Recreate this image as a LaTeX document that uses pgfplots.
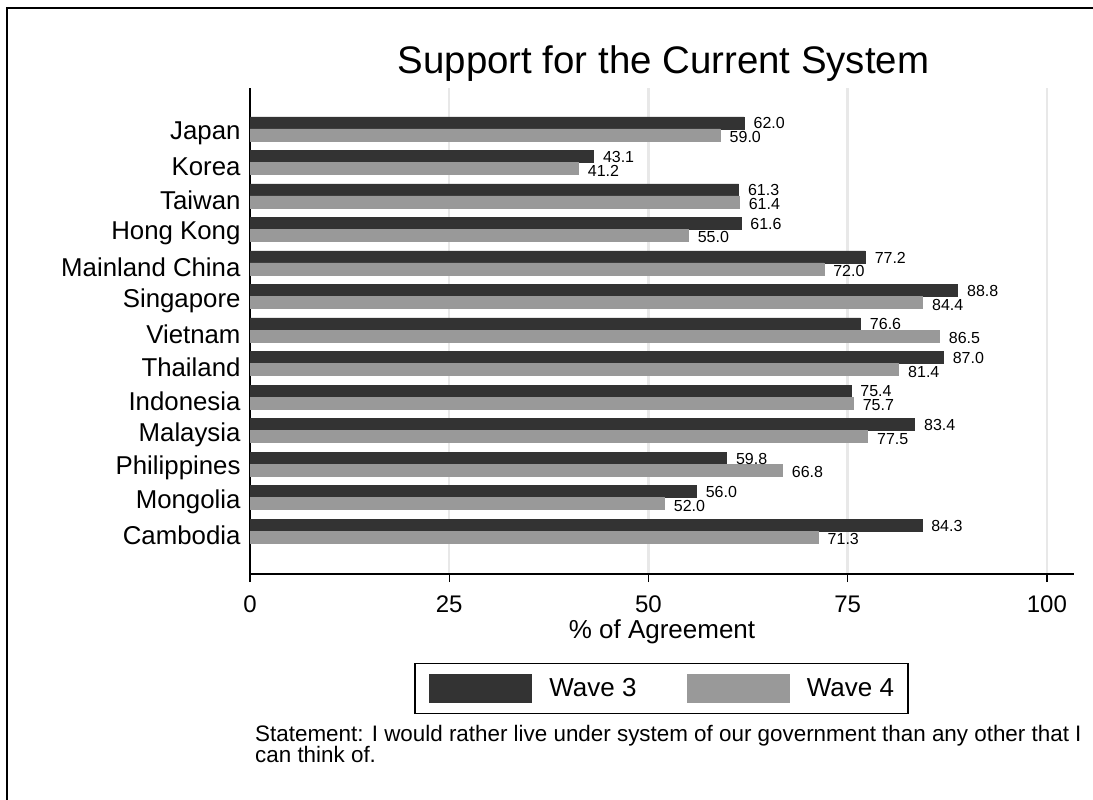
\documentclass[border=0pt]{standalone}
\usepackage{pgfplots}
\pgfplotsset{compat=1.18}
\usepackage{fontspec}
\setmainfont{Liberation Sans}
\definecolor{wthree}{RGB}{51,51,51}
\definecolor{wfour}{RGB}{153,153,153}
\definecolor{gridc}{RGB}{232,232,232}
\newcommand{\fs}[1]{\fontsize{#1}{#1}\selectfont}
\begin{document}
\begin{tikzpicture}[x=1pt,y=1pt]
\path[use as bounding box] (0,0) rectangle (1093,-800);
\draw[line width=2pt] (7,-801) -- (7,-8) -- (1094,-8);
\node[font=\fs{38.4}, anchor=base] at (663.5,-74) {Support for the Current System};
\begin{axis}[
  at={(250pt,-574pt)}, anchor=south west,
  scale only axis, width=824pt, height=486pt,
  xmin=0, xmax=103.4, ymin=-0.28, ymax=14.22,
  xbar, bar width=0.358,
  axis x line*=bottom, axis y line*=left,
  axis line style={line width=1.4pt, -},
  xtick={0,25,50,75,100},
  ytick={1,...,13},
  yticklabels={Cambodia,Mongolia,Philippines,Malaysia,Indonesia,Thailand,Vietnam,Singapore,Mainland China,Hong Kong,Taiwan,Korea,Japan},
  y tick style={draw=none},
  x tick style={line width=1.2pt, black},
  tick align=outside, major tick length=8pt,
  xmajorgrids, grid style={gridc, line width=2.5pt},
  yticklabel style={font=\fs{25.8}, yshift=-4pt, xshift=2pt},
  xticklabel style={font=\fs{24}, yshift=-10pt},
  xlabel={\% of Agreement}, xlabel style={font=\fs{26}, yshift=0pt},
  /pgf/number format/assume math mode=true,
  point meta=x,
  nodes near coords={\pgfmathprintnumber[fixed,fixed zerofill,precision=1]{\pgfplotspointmeta}},
  nodes near coords align=horizontal,
  every node near coord/.append style={font=\fs{16}, anchor=west, xshift=6pt, text=black, inner ysep=0.5pt},
  legend columns=2,
  legend style={at={(0.4994,-0.2356)}, anchor=center, draw=black, line width=1.3pt,
    inner xsep=14pt, inner ysep=11pt, font=\fs{26},
    /tikz/every odd column/.append style={column sep=17pt},
    /tikz/every even column/.append style={column sep=50pt},
    nodes={inner sep=0pt}, cells={anchor=west}},
  legend image code/.code={\fill[#1] (0pt,-13.5pt) rectangle (102pt,13.5pt);},
]
\addplot[fill=wthree, draw=wthree, bar shift=0.18,
  every node near coord/.append style={yshift=-0.5pt}] coordinates {
 (84.3,1) (56.0,2) (59.8,3) (83.4,4) (75.4,5) (87.0,6) (76.6,7) (88.8,8) (77.2,9) (61.6,10) (61.3,11) (43.1,12) (62.0,13)};
\addplot[fill=wfour, draw=wfour, bar shift=-0.18,
  every node near coord/.append style={yshift=-2pt}] coordinates {
 (71.3,1) (52.0,2) (66.8,3) (77.5,4) (75.7,5) (81.4,6) (86.5,7) (84.4,8) (72.0,9) (55.0,10) (61.4,11) (41.2,12) (59.0,13)};
\legend{Wave 3, Wave 4}
\end{axis}
\node[anchor=north west, align=left, font=\fontsize{22.4}{21}\selectfont, inner sep=0pt] at (255,-725) {Statement: I would rather live under system of our government than any other that I\\can think of.};
\end{tikzpicture}
\end{document}
